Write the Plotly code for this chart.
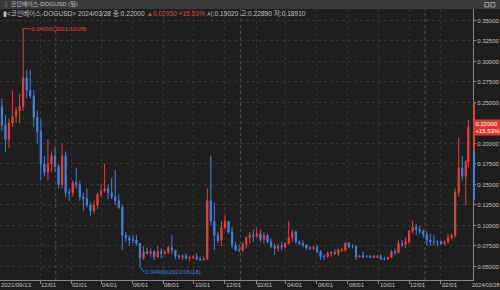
import pandas as pd
import plotly.graph_objects as go

# ---------------- data (weekly candles) ----------------
start_date = "2021-09-13"
first_open = 0.245
highs = [0.255, 0.235, 0.230, 0.265, 0.245, 0.260, 0.340, 0.290, 0.290, 0.265,
         0.240, 0.230, 0.185, 0.205, 0.190, 0.195, 0.175, 0.200, 0.190, 0.145,
         0.155, 0.170, 0.155, 0.140, 0.145, 0.128, 0.130, 0.140, 0.150, 0.175,
         0.150, 0.158, 0.168, 0.138, 0.125, 0.092, 0.088, 0.088, 0.088, 0.078,
         0.075, 0.073, 0.072, 0.070, 0.075, 0.072, 0.070, 0.075, 0.088, 0.070,
         0.065, 0.065, 0.066, 0.063, 0.064, 0.066, 0.062, 0.062, 0.145, 0.185,
         0.128, 0.092, 0.105, 0.112, 0.105, 0.098, 0.080, 0.077, 0.080, 0.087,
         0.092, 0.095, 0.098, 0.095, 0.092, 0.090, 0.084, 0.078, 0.078, 0.080,
         0.080, 0.105, 0.095, 0.094, 0.082, 0.082, 0.077, 0.075, 0.075, 0.076,
         0.070, 0.065, 0.068, 0.069, 0.071, 0.072, 0.073, 0.080, 0.080, 0.077,
         0.076, 0.064, 0.068, 0.064, 0.064, 0.064, 0.064, 0.065, 0.062, 0.062,
         0.070, 0.072, 0.082, 0.082, 0.085, 0.095, 0.106, 0.102, 0.100, 0.095,
         0.093, 0.090, 0.088, 0.082, 0.082, 0.082, 0.090, 0.090, 0.145, 0.207,
         0.185, 0.180, 0.2289]
lows = [0.215, 0.190, 0.195, 0.220, 0.225, 0.225, 0.240, 0.255, 0.255, 0.220,
        0.200, 0.155, 0.160, 0.155, 0.165, 0.165, 0.145, 0.145, 0.135, 0.130,
        0.135, 0.145, 0.130, 0.118, 0.122, 0.112, 0.115, 0.120, 0.135, 0.140,
        0.132, 0.132, 0.125, 0.120, 0.070, 0.080, 0.075, 0.078, 0.075, 0.04909,
        0.058, 0.064, 0.062, 0.058, 0.060, 0.060, 0.064, 0.065, 0.065, 0.059,
        0.059, 0.058, 0.058, 0.056, 0.059, 0.058, 0.057, 0.057, 0.058, 0.100,
        0.070, 0.078, 0.075, 0.095, 0.090, 0.072, 0.068, 0.067, 0.068, 0.072,
        0.078, 0.080, 0.085, 0.080, 0.078, 0.078, 0.072, 0.064, 0.068, 0.070,
        0.072, 0.077, 0.080, 0.078, 0.076, 0.073, 0.070, 0.070, 0.070, 0.066,
        0.058, 0.058, 0.060, 0.062, 0.064, 0.063, 0.068, 0.068, 0.072, 0.072,
        0.058, 0.061, 0.060, 0.061, 0.060, 0.060, 0.060, 0.058, 0.057, 0.058,
        0.060, 0.064, 0.066, 0.074, 0.072, 0.078, 0.090, 0.088, 0.090, 0.085,
        0.075, 0.075, 0.076, 0.075, 0.076, 0.076, 0.078, 0.082, 0.085, 0.135,
        0.155, 0.125, 0.170]
closes = [0.222, 0.205, 0.225, 0.233, 0.240, 0.245, 0.280, 0.265, 0.258, 0.232,
          0.215, 0.175, 0.165, 0.175, 0.185, 0.172, 0.150, 0.185, 0.140, 0.140,
          0.152, 0.150, 0.135, 0.133, 0.125, 0.118, 0.125, 0.138, 0.142, 0.145,
          0.140, 0.135, 0.130, 0.122, 0.088, 0.085, 0.082, 0.082, 0.078, 0.060,
          0.068, 0.066, 0.068, 0.062, 0.068, 0.066, 0.067, 0.073, 0.070, 0.063,
          0.062, 0.063, 0.060, 0.061, 0.062, 0.059, 0.058, 0.059, 0.130, 0.105,
          0.088, 0.082, 0.098, 0.105, 0.092, 0.076, 0.070, 0.070, 0.077, 0.085,
          0.088, 0.087, 0.090, 0.083, 0.088, 0.080, 0.075, 0.072, 0.075, 0.074,
          0.078, 0.085, 0.092, 0.080, 0.078, 0.076, 0.073, 0.072, 0.073, 0.068,
          0.062, 0.062, 0.066, 0.067, 0.066, 0.070, 0.070, 0.078, 0.074, 0.074,
          0.062, 0.063, 0.062, 0.062, 0.062, 0.061, 0.062, 0.059, 0.059, 0.061,
          0.068, 0.067, 0.078, 0.077, 0.080, 0.093, 0.098, 0.095, 0.093, 0.089,
          0.082, 0.080, 0.080, 0.080, 0.078, 0.080, 0.085, 0.088, 0.140, 0.170,
          0.160, 0.178, 0.220]
opens = [first_open] + closes[:-1]

ytick_vals = [0.05, 0.075, 0.10, 0.125, 0.15, 0.175, 0.20, 0.25, 0.275, 0.30, 0.325, 0.35]
hidden_grid = [0.225]   # grid level whose label is covered by the price box
xtick_dates = ["2021-12-01", "2022-02-01", "2022-04-01", "2022-06-01", "2022-08-01",
               "2022-10-01", "2022-12-01", "2023-02-01", "2023-04-01", "2023-06-01",
               "2023-08-01", "2023-10-01", "2023-12-01", "2024-02-01"]
xtick_text = ["12/01", "02/01", "04/01", "06/01", "08/01", "10/01", "12/01",
              "02/01", "04/01", "06/01", "08/01", "10/01", "12/01", "02/01"]
year_lines = ["2022-01-01", "2023-01-01", "2024-01-01"]
first_label = "2021/09/13"
last_label = "2024/03/28"
max_point = ("2021-10-28", 0.34, "0.34000(2021/10/28)")
min_point = ("2022-06-18", 0.04909, "0.04909(2022/06/18)")
last_price_text = "0.22000<br>+15.53%"
range_bar = [0.25, 0.192, 0.131]   # red segment top, split, blue segment bottom
title_text = "⋮ 코인베이스-DOGUSD (일)"
info_plain1 = "▮<코인베이스-DOGUSD> 2024/03/28 종:0.22000 "
info_red = "▲0.02950 +15.53%"
info_plain2 = " 시:0.19020 고:0.22890 저:0.18910"

# ---------------------------------------------------------------------------
n = len(closes)
starts = pd.date_range(start_date, periods=n, freq="7D")
centers = starts + pd.Timedelta(hours=84)
centers = centers[:-1].append(pd.DatetimeIndex([starts[-1] + pd.Timedelta(hours=36)]))

RED = "#e0443f"
BLUE = "#4680dc"
BG = "#1e1e1e"
TXT = "#c2c2c2"
FONT = "Liberation Sans, Noto Sans CJK KR"

fig = go.Figure()
fig.add_trace(go.Candlestick(
    x=centers, open=opens, high=highs, low=lows, close=closes,
    increasing=dict(line=dict(color=RED, width=1), fillcolor=RED),
    decreasing=dict(line=dict(color=BLUE, width=1), fillcolor=BLUE),
    whiskerwidth=0, hoverinfo="skip", showlegend=False,
))

x0 = pd.Timestamp(start_date) - pd.Timedelta(hours=6)
x1 = x0 + pd.Timedelta(days=935)

shapes = []
for d in year_lines:
    shapes.append(dict(type="line", xref="x", yref="paper", x0=d, x1=d, y0=0, y1=1,
                       line=dict(color="#505050", width=1, dash="dot"), layer="below"))
for v in hidden_grid:
    shapes.append(dict(type="line", xref="paper", yref="y", x0=0, x1=1, y0=v, y1=v,
                       line=dict(color="#353535", width=1, dash="dot"), layer="below"))
# header bar
shapes.append(dict(type="rect", xref="paper", yref="paper", x0=0, x1=1.06, y0=1.0, y1=1.04,
                   fillcolor="#3a3a3a", line=dict(width=0), layer="below"))
# window buttons
for bx in [488, 494]:
    shapes.append(dict(type="rect", xref="paper", yref="paper",
                       x0=bx / 476, x1=(bx + 4) / 476, y0=1 + 2 / 271, y1=1 + 6.5 / 271,
                       line=dict(color="#bdbdbd", width=0.8), fillcolor="rgba(0,0,0,0)"))
# range bar on the axis
shapes.append(dict(type="line", xref="paper", yref="y", x0=1.002, x1=1.002,
                   y0=range_bar[0], y1=range_bar[1], line=dict(color=RED, width=2)))
shapes.append(dict(type="line", xref="paper", yref="y", x0=1.002, x1=1.002,
                   y0=range_bar[1], y1=range_bar[2], line=dict(color=BLUE, width=2)))

ann = []
for d, t in zip(xtick_dates, xtick_text):
    ann.append(dict(x=d, y=0, xref="x", yref="paper", text=t, showarrow=False,
                    xanchor="left", yanchor="top", xshift=-1, yshift=0,
                    font=dict(size=6, color=TXT, family=FONT)))
ann.append(dict(x=0, y=0, xref="paper", yref="paper", text=first_label, showarrow=False,
                xanchor="left", yanchor="top", xshift=-1,
                font=dict(size=6, color=TXT, family=FONT)))
ann.append(dict(x=1, y=0, xref="paper", yref="paper", text=last_label, showarrow=False,
                xanchor="left", yanchor="top", xshift=-3,
                font=dict(size=5.5, color=TXT, family=FONT)))
ann.append(dict(x=max_point[0], y=max_point[1], xref="x", yref="y", text=max_point[2],
                showarrow=True, arrowhead=0, arrowwidth=0.8, arrowcolor=RED, ax=7, ay=0,
                xanchor="left", yanchor="middle", borderpad=0,
                font=dict(size=6, color=RED, family=FONT)))
ann.append(dict(x=min_point[0], y=min_point[1], xref="x", yref="y", text=min_point[2],
                showarrow=True, arrowhead=0, arrowwidth=0.8, arrowcolor=BLUE, ax=3, ay=5,
                xanchor="left", yanchor="middle", borderpad=0,
                font=dict(size=6, color=BLUE, family=FONT)))
ann.append(dict(x=1, y=closes[-1], xref="paper", yref="y", text=last_price_text,
                showarrow=False, xanchor="left", yanchor="middle", xshift=1,
                bgcolor="#d93a34", borderpad=0.5, align="left",
                font=dict(size=6, color="#ffffff", family=FONT)))
ann.append(dict(x=0, y=1 + 4.5 / 271, xref="paper", yref="paper", text=title_text,
                showarrow=False, xanchor="left", yanchor="middle", xshift=1,
                font=dict(size=6, color=TXT, family=FONT)))
ann.append(dict(x=0, y=1 - 4.5 / 271, xref="paper", yref="paper",
                text=info_plain1 + f"<span style='color:{RED}'>{info_red}</span>" + info_plain2,
                showarrow=False, xanchor="left", yanchor="middle", xshift=1,
                font=dict(size=6.6, color=TXT, family=FONT)))

fig.update_layout(
    width=500, height=290,
    margin=dict(l=0, r=24, t=9, b=10),
    paper_bgcolor=BG, plot_bgcolor=BG,
    shapes=shapes, annotations=ann,
    xaxis=dict(type="date", range=[x0, x1], rangeslider=dict(visible=False),
               tickvals=xtick_dates, ticktext=[""] * len(xtick_dates),
               ticks="outside", ticklen=3, tickcolor="#8a8a8a",
               showgrid=True, gridcolor="#333333", griddash="dot", gridwidth=1,
               showline=True, linecolor="#8a8a8a", linewidth=1, zeroline=False),
    yaxis=dict(side="right", range=[0.0335, 0.364], tickvals=ytick_vals,
               tickformat=".5f", ticks="outside", ticklen=2, tickcolor="#8a8a8a",
               tickfont=dict(size=6, color=TXT, family=FONT),
               showgrid=True, gridcolor="#353535", griddash="dot", gridwidth=1,
               showline=True, linecolor="#8a8a8a", linewidth=1, zeroline=False),
)

fig.write_html("out.html")
